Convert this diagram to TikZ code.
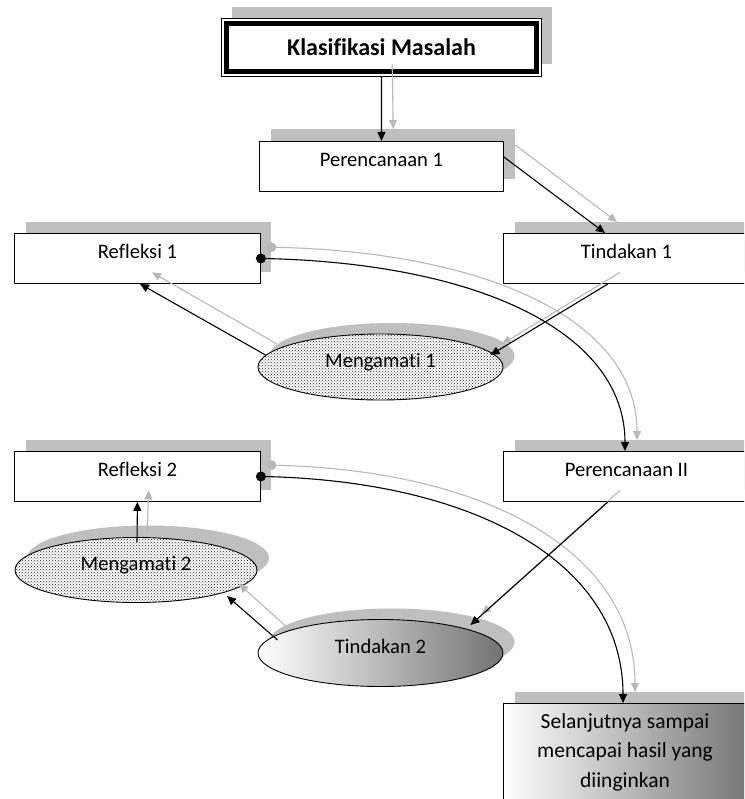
\documentclass[tikz,border=0pt]{standalone}
\usepackage{fontspec}
\setmainfont{Carlito}[Ligatures={NoCommon}]
\usetikzlibrary{arrows.meta,shapes.geometric,patterns,calc}
\begin{document}
\begin{tikzpicture}[x=1pt,y=-1pt,
  shade/.style={fill=black!25,draw=none,inner sep=0pt,anchor=north west},
  boxr/.style={draw=black,line width=0.9pt,fill=white,inner sep=0pt,anchor=north west,
    minimum width=#1,minimum height=50pt,font=\fontsize{20.6}{24}\selectfont,text height=8pt,text depth=8pt},
  shadeell/.style={ellipse,fill=black!25,draw=none,inner sep=0pt,minimum width=245pt,minimum height=66pt},
  ell/.style={ellipse,draw=black,line width=0.9pt,inner sep=0pt,minimum width=245pt,minimum height=66pt,
    font=\fontsize{20.6}{24}\selectfont,text height=9pt,text depth=9pt},
  dotted fill/.style={preaction={fill=white},pattern=crosshatch dots,pattern color=black!85},
  blk/.style={draw=black,line width=1.1pt,-{Triangle[length=9pt,width=8pt]}},
  gry/.style={draw=black!28,line width=1.1pt,-{Triangle[length=9pt,width=8pt]}}]
\useasboundingbox (0,0) rectangle (744,799);
\clip (0,0) rectangle (744,799);
% shadows
\node[shade,minimum width=320pt,minimum height=57pt] (kls) at (232,7) {};
\node[shade,minimum width=244pt,minimum height=50pt] (p1s) at (271,129) {};
\node[shade,minimum width=245pt,minimum height=50pt] (r1s) at (26,222) {};
\node[shade,minimum width=250pt,minimum height=50pt] (t1s) at (515,222) {};
\node[shadeell] (m1s) at (392,356) {};
\node[shade,minimum width=250pt,minimum height=50pt] (p2s) at (515,440) {};
\node[shade,minimum width=245pt,minimum height=50pt] (r2s) at (26,440) {};
\node[shadeell,minimum width=242pt,minimum height=65pt] (m2s) at (148,558) {};
\node[shadeell,minimum height=67pt] (t2s) at (392,642) {};
\node[shade,minimum width=250pt,minimum height=120pt] (sels) at (515,692) {};
% main shapes
\node[draw=black,line width=1pt,fill=white,inner sep=0pt,anchor=north west,minimum width=320pt,minimum height=58pt,
  font=\fontsize{24}{28}\selectfont\bfseries,text height=16pt,text depth=0pt] (kl) at (221,18) {Klasifikasi Masalah};
\draw[line width=5pt] ($(kl.north west)+(5.5,5.5)$) rectangle ($(kl.south east)+(-5.5,-5.5)$);
\node[boxr=244pt] (p1) at (259,141) {Perencanaan 1};
\node[boxr=246pt] (r1) at (14,233) {Refleksi 1};
\node[boxr=250pt] (t1) at (503,233) {\hspace*{-4pt}Tindakan 1};
\node[ell,dotted fill] (m1) at (380.5,367) {Mengamati 1};
\node[boxr=250pt] (p2) at (503,451) {\hspace*{-4pt}Perencanaan II};
\node[boxr=246pt] (r2) at (14,451) {Refleksi 2};
\node[ell,dotted fill,minimum width=242pt,minimum height=65pt] (m2) at (136,570) {Mengamati 2};
\node[ell,left color=white,right color=black!55,minimum height=67pt] (t2) at (380.5,653) {Tindakan 2};
\node[draw=black,line width=0.9pt,left color=white,right color=black!55,inner sep=0pt,anchor=north west,
  minimum width=250pt,minimum height=120pt] (sel) at (503,703) {};
\node[font=\fontsize{21.5}{29.5}\selectfont,align=center,inner sep=0pt] (selt) at (625,752)
  {Selanjutnya sampai\\mencapai hasil yang\\diinginkan};
% gray connectors
\draw[gry] (kls.south) -- (p1s.north);
\draw[gry] ($(p1s.north east)+(0,16)$) -- ($(t1s.north west)+(102,0)$);
\draw[gry] ($(t1s.south west)+(105,0)$) -- ($(m1s.center)+(110,-12)$);
\draw[gry] ($(m1s.center)+(-115,-12)$) -- ($(r1s.south west)+(126,0)$);
\draw[gry] (r1s.east) .. controls ($(r1s.east)+(215,4)$) and ($(p2s.north west)+(122,-120)$) .. ($(p2s.north west)+(122,0)$);
\draw[gry] ($(p2s.south west)+(105,0)$) -- ($(t2s.center)+(90,-28)$);
\draw[gry] ($(t2s.center)+(-103,-13)$) -- ($(m2s.center)+(91,26)$);
\draw[gry] ($(m2s.north)+(-1,7)$) -- (r2s.south);
\draw[gry] (r2s.east) .. controls ($(r2s.east)+(215,4)$) and ($(sels.north west)+(120,-140)$) .. ($(sels.north west)+(120,0)$);
\fill[black!28] (r1s.east) circle (5);
\fill[black!28] (r2s.east) circle (5);
% black connectors
\draw[blk] (kl.south) -- (p1.north);
\draw[blk] ($(p1.north east)+(0,16)$) -- ($(t1.north west)+(102,0)$);
\draw[blk] ($(t1.south west)+(105,0)$) -- ($(m1.center)+(110,-12)$);
\draw[blk] ($(m1.center)+(-115,-12)$) -- ($(r1.south west)+(126,0)$);
\draw[blk] (r1.east) .. controls ($(r1.east)+(215,4)$) and ($(p2.north west)+(122,-120)$) .. ($(p2.north west)+(122,0)$);
\draw[blk] ($(p2.south west)+(105,0)$) -- ($(t2.center)+(90,-28)$);
\draw[blk] ($(t2.center)+(-103,-13)$) -- ($(m2.center)+(91,26)$);
\draw[blk] ($(m2.north)+(1,5)$) -- (r2.south);
\draw[blk] (r2.east) .. controls ($(r2.east)+(215,4)$) and ($(sel.north west)+(120,-140)$) .. ($(sel.north west)+(120,0)$);
\fill[black] (r1.east) circle (5);
\fill[black] (r2.east) circle (5);
\end{tikzpicture}
\end{document}
